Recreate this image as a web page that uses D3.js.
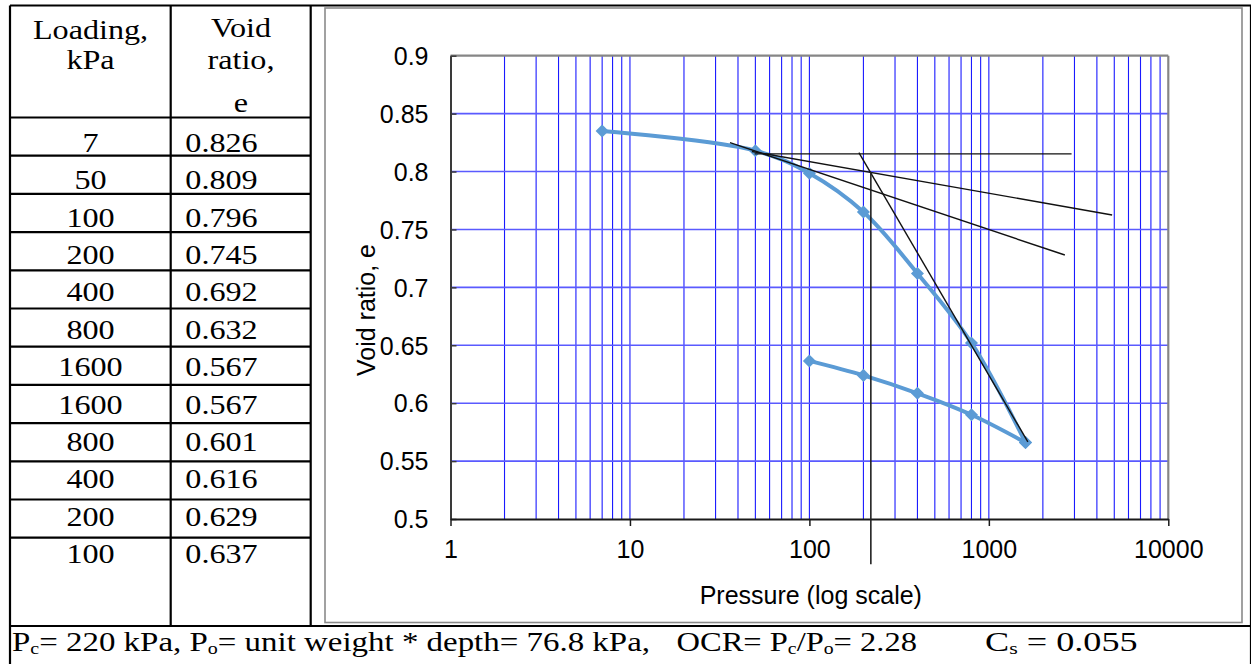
<!DOCTYPE html>
<html>
<head>
<meta charset="utf-8">
<script src="https://cdn.jsdelivr.net/npm/d3@7"></script>
<style>
  html, body { margin: 0; padding: 0; background: #fff; }
  svg { display: block; }
</style>
</head>
<body>
<svg id="page" width="1251" height="664"></svg>
<script>
// ---- Data ---------------------------------------------------------------
// Table contents
const tableHeadLoad = ["Loading,", "kPa"];
const tableHeadVoid = ["Void", "ratio,", "e"];
const tableLoad = ["7", "50", "100", "200", "400", "800", "1600", "1600", "800", "400", "200", "100"];
const tableVoid = ["0.826", "0.809", "0.796", "0.745", "0.692", "0.632", "0.567", "0.567", "0.601", "0.616", "0.629", "0.637"];

// Plotted consolidation curve (loading then unloading)
const curvePressure = [7, 50, 100, 200, 400, 800, 1600, 1600, 800, 400, 200, 100];
const curveVoid = [0.835, 0.818, 0.7985, 0.765, 0.712, 0.652, 0.566, 0.566, 0.590, 0.6085, 0.624, 0.6365];

// Casagrande construction lines, in (pressure, void ratio) units
const horizontalP = [49.5, 2890];
const horizontalE = [0.8152, 0.8152];
const tangentP = [36.1, 2651];
const tangentE = [0.8249, 0.7279];
const bisectorP = [47.8, 4864];
const bisectorE = [0.8173, 0.7625];
const virginP = [188.7, 1650];
const virginE = [0.8163, 0.5665];
const preconsP = [220, 220];
const preconsE = [0.7995, 0.461];

// Axes
const pressureTicks = [1, 10, 100, 1000, 10000];
const voidTicks = [0.5, 0.55, 0.6, 0.65, 0.7, 0.75, 0.8, 0.85, 0.9];

// Summary line
const summaryA = ["P", "c", "= 220 kPa, P", "o", "= unit weight * depth= 76.8 kPa,"];
const summaryB = ["OCR= P", "c", "/P", "o", "= 2.28"];
const summaryC = ["C", "s", " = 0.055"];

// ---- Layout -------------------------------------------------------------
const svg = d3.select("#page");
const serif = "'Liberation Serif', 'Times New Roman', serif";
const sans = "'Liberation Sans', Arial, sans-serif";

const plot = { left: 450.5, right: 1168.3, top: 55.7, bottom: 519 };
const x = d3.scaleLog().domain([1, 10000]).range([plot.left, plot.right]);
const y = d3.scaleLinear().domain([0.5, 0.9]).range([plot.bottom, plot.top]);

// ---- Table frame ----------------------------------------------------------
const T = { left: 10, col1: 170.7, col2: 310.7, right: 1252, top: 5.5, head: 117.5, rowH: 38.2, lastBottom: 626, bottom: 670 };
const tbl = svg.append("g").attr("stroke", "#000").attr("stroke-width", 2.2);
// chart frame inside the right cell
svg.append("rect")
  .attr("x", 325).attr("y", 8).attr("width", 917).attr("height", 614.5)
  .attr("fill", "none").attr("stroke", "#8a8a8a").attr("stroke-width", 1.6);

tbl.append("line").attr("x1", T.left).attr("x2", T.right).attr("y1", T.top).attr("y2", T.top);
tbl.append("line").attr("x1", T.left).attr("x2", T.right).attr("y1", T.lastBottom).attr("y2", T.lastBottom);
tbl.append("line").attr("x1", T.left).attr("x2", T.left).attr("y1", T.top).attr("y2", T.bottom);
tbl.append("line").attr("x1", T.col1).attr("x2", T.col1).attr("y1", T.top).attr("y2", T.lastBottom);
tbl.append("line").attr("x1", T.col2).attr("x2", T.col2).attr("y1", T.top).attr("y2", T.lastBottom);
tbl.append("line").attr("x1", 1251).attr("x2", 1251).attr("y1", T.top).attr("y2", T.bottom);
// row separators under the header and every data row except the last
tbl.selectAll("line.row").data(d3.range(tableLoad.length))
  .join("line").attr("class", "row")
  .attr("x1", T.left).attr("x2", T.col2)
  .attr("y1", i => T.head + i * T.rowH).attr("y2", i => T.head + i * T.rowH);

// ---- Table text -----------------------------------------------------------
const stretch = 1.17;
function cellText(txt, cx, by, anchor) {
  svg.append("text")
    .attr("transform", `translate(${cx},${by}) scale(${stretch},1)`)
    .attr("text-anchor", anchor)
    .attr("font-family", serif).attr("font-size", 27.5).attr("fill", "#000")
    .text(txt);
}
const headLoadY = [39, 69];
tableHeadLoad.forEach((t, i) => cellText(t, 90.5, headLoadY[i], "middle"));
const headVoidY = [37, 69, 111.5];
tableHeadVoid.forEach((t, i) => cellText(t, 241, headVoidY[i], "middle"));

const firstBase = 151.7, baseStep = 37.42;
tableLoad.forEach((t, i) => cellText(t, 90.5, firstBase + i * baseStep, "middle"));
tableVoid.forEach((t, i) => cellText(t, 185.3, firstBase + i * baseStep, "start"));

// ---- Summary row ------------------------------------------------------------
function summary(parts, x0, width) {
  const t = svg.append("text")
    .attr("x", x0).attr("y", 651)
    .attr("font-family", serif).attr("font-size", 28).attr("fill", "#000")
    .attr("textLength", width).attr("lengthAdjust", "spacingAndGlyphs");
  parts.forEach((p, i) => {
    const sub = i % 2 === 1;
    t.append("tspan")
      .attr("font-size", sub ? 17 : 28)
      .attr("dy", sub ? 3 : (i > 0 ? -3 : 0))
      .text(p);
  });
}
summary(summaryA, 12, 638);
summary(summaryB, 676.5, 240.5);
summary(summaryC, 985, 152.6);

// ---- Chart gridlines ----------------------------------------------------------
const grid = svg.append("g");
const minorP = x.ticks().filter(v => v > 1 && v < 10000);
grid.selectAll("line.v").data(minorP).join("line")
  .attr("x1", d => x(d)).attr("x2", d => x(d))
  .attr("y1", plot.top).attr("y2", plot.bottom)
  .attr("stroke", "#1a1aff").attr("stroke-width", 1.1);
grid.selectAll("line.h").data(voidTicks.filter(v => v > 0.5 && v < 0.9)).join("line")
  .attr("x1", plot.left).attr("x2", plot.right)
  .attr("y1", d => y(d)).attr("y2", d => y(d))
  .attr("stroke", "#5a5aff").attr("stroke-width", 1.6);

// plot border: grey top and right, dark axes on left and bottom
grid.append("line").attr("x1", plot.left).attr("x2", plot.right).attr("y1", plot.top).attr("y2", plot.top)
  .attr("stroke", "#868686").attr("stroke-width", 2.2);
grid.append("line").attr("x1", plot.right).attr("x2", plot.right).attr("y1", plot.top).attr("y2", plot.bottom)
  .attr("stroke", "#868686").attr("stroke-width", 2.2);

// ---- Axes ------------------------------------------------------------------------
const yAxis = d3.axisLeft(y).tickValues(voidTicks).tickSizeInner(-6).tickSizeOuter(0)
  .tickFormat(d3.format("~g")).tickPadding(22);
const gy = svg.append("g").attr("transform", `translate(${plot.left},0)`).call(yAxis);
gy.select(".domain").attr("stroke", "#3a3a3a").attr("stroke-width", 2);
gy.selectAll(".tick line").attr("stroke", "#3a3a3a").attr("stroke-width", 1.5);
gy.selectAll(".tick text").attr("font-family", sans).attr("font-size", 25).attr("fill", "#000")
  .attr("dy", "0.35em");

const xAxis = d3.axisBottom(x).tickValues(pressureTicks).tickSizeInner(7).tickSizeOuter(0)
  .tickFormat(d3.format("d")).tickPadding(14);
const gx = svg.append("g").attr("transform", `translate(0,${plot.bottom})`).call(xAxis);
gx.select(".domain").attr("stroke", "#1a1a1a").attr("stroke-width", 1.8);
gx.selectAll(".tick line").attr("stroke", "#1a1a1a").attr("stroke-width", 1.5);
gx.selectAll(".tick text").attr("font-family", sans).attr("font-size", 25).attr("fill", "#000")
  .attr("dy", "0.71em");

svg.append("text")
  .attr("x", 810.8).attr("y", 604)
  .attr("text-anchor", "middle")
  .attr("font-family", sans).attr("font-size", 25).attr("fill", "#000")
  .text("Pressure (log scale)");

svg.append("text")
  .attr("transform", "translate(375,310) rotate(-90)")
  .attr("text-anchor", "middle")
  .attr("font-family", sans).attr("font-size", 25).attr("fill", "#000")
  .text("Void ratio, e");

// ---- Consolidation curve ---------------------------------------------------------
const pts = curvePressure.map((p, i) => [p, curveVoid[i]]);
const lineGen = d3.line().x(d => x(d[0])).y(d => y(d[1])).curve(d3.curveCatmullRom.alpha(0.5));
svg.append("path").datum(pts)
  .attr("d", lineGen)
  .attr("fill", "none").attr("stroke", "#5b9bd5").attr("stroke-width", 4)
  .attr("stroke-linejoin", "round");
svg.append("g").selectAll("path").data(pts).join("path")
  .attr("d", d3.symbol(d3.symbolSquare, 85)())
  .attr("transform", d => `translate(${x(d[0])},${y(d[1])}) rotate(45)`)
  .attr("fill", "#5b9bd5");

// ---- Construction lines -------------------------------------------------------------
const construction = [
  [horizontalP, horizontalE, 1.4, "#111"],
  [tangentP, tangentE, 1.4, "#111"],
  [bisectorP, bisectorE, 1.4, "#111"],
  [virginP, virginE, 1.4, "#111"],
  [preconsP, preconsE, 1.6, "#222"]
];
svg.append("g").selectAll("line").data(construction).join("line")
  .attr("x1", d => x(d[0][0])).attr("y1", d => y(d[1][0]))
  .attr("x2", d => x(d[0][1])).attr("y2", d => y(d[1][1]))
  .attr("stroke-width", d => d[2]).attr("stroke", d => d[3]);
</script>
</body>
</html>
